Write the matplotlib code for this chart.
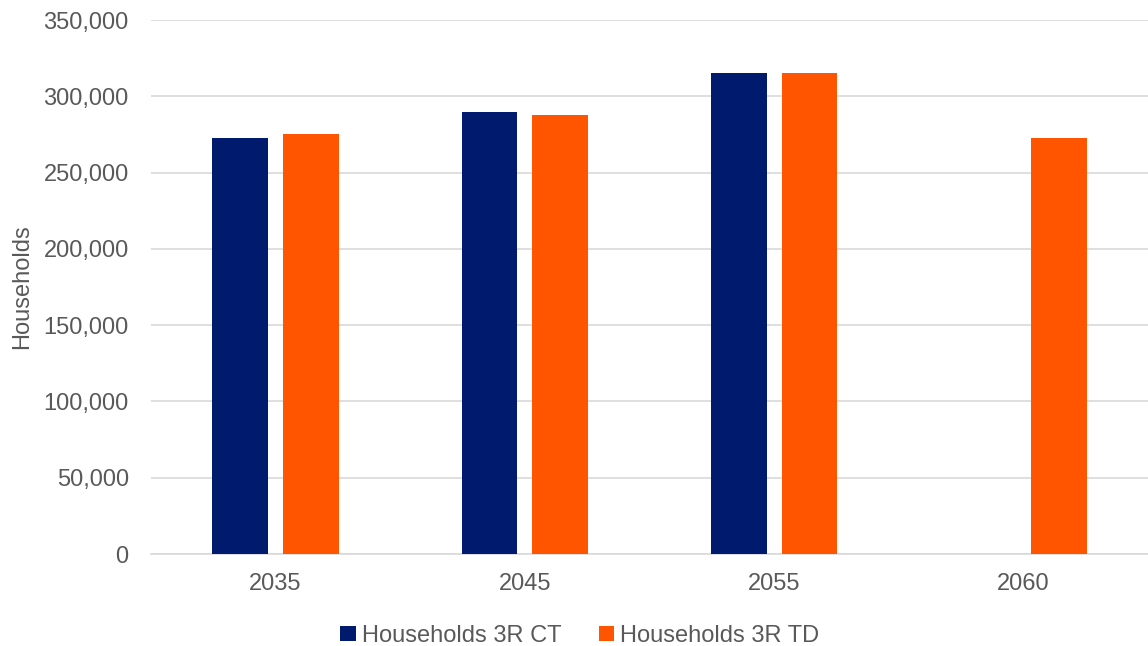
import matplotlib.pyplot as plt
import numpy as np
from matplotlib.ticker import FuncFormatter

years = ["2035", "2045", "2055", "2060"]
ct = [272600, 289400, 315000, np.nan]
td = [275400, 287500, 315200, 272700]

navy = "#001A6E"
orange = "#FF5500"
grey = "#595959"

plt.rcParams["font.family"] = ["Liberation Sans", "DejaVu Sans"]

fig = plt.figure(figsize=(11.48, 6.46), dpi=100)
ax = fig.add_axes([0.1315, 0.1424, 0.8685, 0.8266])

x = np.arange(len(years))
w = 0.224
ax.bar(x - 0.142, ct, w, color=navy, label="Households 3R CT", zorder=3)
ax.bar(x + 0.142, td, w, color=orange, label="Households 3R TD", zorder=3)

ax.set_xlim(-0.5, 3.5)
ax.set_ylim(0, 350000)
ax.set_yticks(np.arange(0, 350001, 50000))
ax.yaxis.set_major_formatter(FuncFormatter(lambda v, p: f"{int(v):,}"))
ax.set_xticks(x)
ax.set_xticklabels(years)
ax.grid(axis="y", color="#D9D9D9", linewidth=1.2, zorder=0)
for s in ["top", "right", "left"]:
    ax.spines[s].set_visible(False)
ax.spines["bottom"].set_color("#D9D9D9")
ax.spines["bottom"].set_linewidth(1.2)
ax.tick_params(axis="both", length=0, labelsize=17, colors=grey)
ax.tick_params(axis="y", pad=16)
ax.tick_params(axis="x", pad=14)
ax.set_ylabel("Households", fontsize=17, color=grey)
ax.yaxis.set_label_coords(-0.118, 0.5)

fig.legend(loc="lower center", bbox_to_anchor=(0.505, -0.034), ncol=2, frameon=False,
           fontsize=17, labelcolor=grey, handlelength=0.65, handleheight=0.65,
           handletextpad=0.25, columnspacing=1.6)

fig.savefig("out.png", dpi=100)
